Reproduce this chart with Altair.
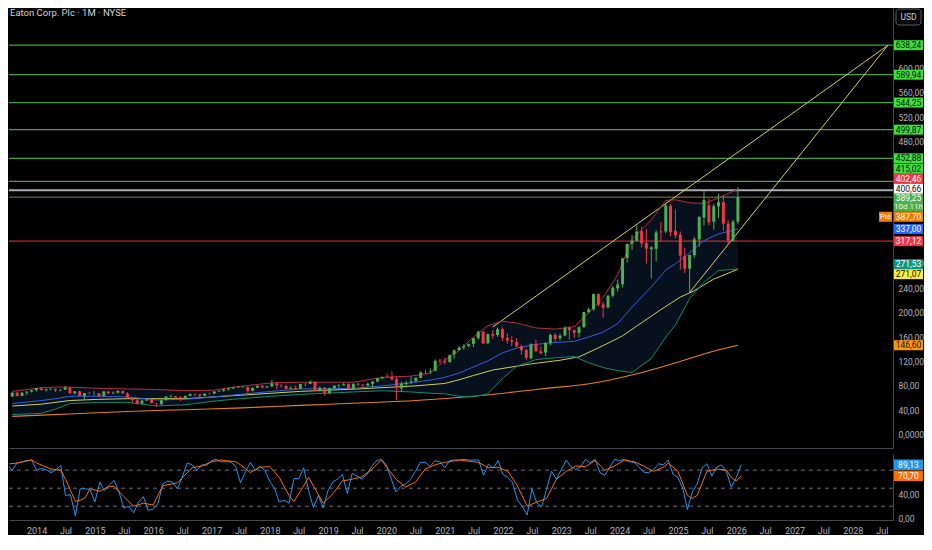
import altair as alt
import pandas as pd

# ---------------- data ----------------
months = pd.date_range("2013-07-01", periods=152, freq="MS")

opens = [
    62.5, 68.9, 63.5, 68.9, 70.6, 72.9,
    76.0, 72.9, 74.5, 74.8, 72.6, 73.6, 77.0, 68.0, 71.1, 63.4, 68.5, 68.0,
    68.0, 63.3, 70.6, 67.6, 68.8, 71.6, 67.5, 60.6, 56.4, 51.3, 56.0, 58.0,
    51.3, 50.3, 56.6, 62.4, 63.2, 61.3, 59.7, 63.5, 66.4, 65.7, 63.9, 67.1,
    67.3, 70.8, 71.8, 74.1, 75.8, 77.5, 78.0, 78.3, 71.9, 76.9, 80.0, 77.3,
    79.2, 84.1, 80.6, 79.9, 75.2, 76.6, 75.0, 83.2, 83.4, 86.7, 71.9, 77.0,
    68.2, 76.3, 80.0, 80.8, 82.9, 74.8, 83.6, 82.0, 80.5, 83.3, 87.1, 92.6,
    95.0, 94.6, 91.2, 75.8, 82.9, 86.0, 87.7, 93.0, 102.3, 102.5, 104.8, 121.4,
    120.4, 119.1, 131.6, 138.8, 143.3, 145.5, 148.8, 158.2, 168.8, 150.0, 165.3, 163.5,
    173.0, 158.7, 154.5, 151.8, 145.0, 138.9, 125.3, 148.4, 136.5, 134.6, 150.0, 163.5,
    158.0, 162.5, 175.8, 171.0, 166.9, 176.3, 201.0, 205.5, 230.4, 213.3, 208.5, 227.7,
    239.8, 246.5, 289.5, 313.0, 317.8, 333.5, 314.0, 304.0, 304.5, 333.0, 333.0, 375.0,
    334.0, 327.5, 293.0, 272.0, 294.0, 320.0, 356.0, 376.0, 349.0, 374.0, 381.0, 346.0,
    318.0, 349.0,
]
highs = [
    69.5, 70.4, 69.6, 71.1, 73.5, 76.5,
    77.7, 75.2, 76.4, 75.6, 74.8, 79.9, 78.0, 71.6, 72.0, 68.5, 70.4, 71.5,
    68.6, 71.4, 71.6, 70.7, 72.9, 72.4, 69.7, 61.9, 58.4, 56.4, 59.5, 58.2,
    51.8, 57.0, 63.0, 65.6, 63.5, 63.0, 64.2, 67.6, 67.3, 66.5, 68.2, 69.0,
    71.5, 73.2, 75.0, 77.0, 78.0, 79.9, 79.9, 78.6, 77.2, 81.2, 81.2, 80.2,
    89.8, 85.9, 83.0, 81.2, 79.4, 80.5, 83.5, 84.4, 89.2, 87.6, 79.0, 78.5,
    77.3, 81.3, 82.6, 84.9, 84.5, 84.1, 85.1, 82.8, 85.7, 88.0, 93.0, 95.2,
    100.2, 103.9, 95.0, 86.9, 87.9, 94.9, 94.0, 103.9, 106.6, 108.6, 123.3, 124.4,
    126.7, 131.6, 139.6, 145.0, 148.4, 149.7, 158.6, 170.3, 170.0, 165.6, 171.0, 175.7,
    175.7, 166.1, 161.5, 158.3, 147.5, 140.6, 149.6, 155.5, 144.9, 151.8, 165.5, 167.0,
    165.5, 178.0, 177.5, 172.5, 177.6, 201.5, 208.0, 231.1, 232.0, 218.0, 228.5, 243.7,
    254.3, 290.0, 313.4, 327.5, 345.2, 341.2, 337.0, 309.0, 335.0, 348.5, 379.1, 378.0,
    369.0, 333.0, 306.0, 295.0, 324.0, 357.7, 399.6, 387.0, 378.0, 395.0, 393.0, 352.0,
    352.0, 406.0,
]
lows = [
    62.0, 63.0, 63.2, 65.0, 69.2, 70.6,
    72.1, 70.7, 72.8, 70.2, 71.0, 73.1, 67.8, 66.0, 63.0, 57.9, 66.4, 64.1,
    61.7, 62.6, 66.6, 66.7, 68.4, 67.3, 59.6, 52.4, 49.5, 50.4, 55.3, 51.1,
    46.2, 47.8, 56.0, 61.0, 58.7, 55.0, 59.3, 63.3, 63.2, 61.2, 63.0, 66.0,
    66.7, 70.0, 70.5, 72.7, 75.0, 76.5, 76.6, 68.8, 70.9, 76.5, 76.3, 76.8,
    78.5, 73.9, 76.8, 74.3, 74.5, 74.4, 74.6, 79.5, 82.8, 71.0, 70.5, 64.6,
    67.0, 75.5, 76.3, 80.6, 74.0, 74.3, 80.0, 76.1, 79.0, 77.5, 86.2, 90.5,
    93.2, 89.0, 56.4, 70.1, 77.0, 83.0, 84.9, 92.5, 99.0, 99.7, 104.4, 116.6,
    115.4, 117.9, 124.7, 137.6, 139.0, 143.4, 143.5, 155.6, 149.0, 148.4, 157.0, 160.5,
    153.7, 149.1, 144.7, 143.0, 131.0, 122.5, 123.6, 136.4, 131.8, 128.8, 146.5, 151.5,
    154.5, 161.0, 155.4, 158.5, 159.6, 175.0, 198.5, 203.0, 210.6, 191.8, 207.0, 225.0,
    234.3, 241.5, 282.0, 303.0, 316.0, 307.0, 280.0, 255.7, 284.0, 316.0, 330.0, 325.0,
    322.0, 270.0, 265.0, 231.9, 290.0, 308.0, 343.0, 343.0, 336.0, 355.0, 334.0, 311.0,
    317.0, 345.0,
]
closes = [
    68.9, 63.3, 68.8, 70.6, 72.9, 76.1,
    73.1, 74.5, 75.1, 72.6, 73.5, 77.2, 67.9, 71.2, 63.4, 68.4, 68.0, 68.0,
    63.1, 71.0, 67.9, 68.7, 71.6, 67.5, 60.6, 57.0, 51.3, 55.9, 58.0, 52.0,
    50.5, 56.6, 62.6, 63.3, 61.0, 59.7, 63.4, 66.4, 65.7, 63.8, 66.9, 67.1,
    70.8, 71.6, 74.2, 75.6, 77.5, 77.8, 78.3, 71.9, 76.8, 80.0, 77.3, 79.0,
    84.0, 80.8, 79.9, 75.0, 76.6, 74.7, 83.2, 83.4, 86.7, 71.7, 76.8, 68.7,
    76.3, 80.3, 80.6, 82.8, 74.5, 83.3, 82.2, 80.7, 83.2, 87.1, 92.5, 94.7,
    94.5, 90.7, 77.7, 83.5, 85.0, 87.5, 93.2, 102.1, 102.0, 103.8, 121.1, 120.1,
    118.6, 130.4, 138.3, 142.9, 145.2, 148.2, 158.0, 168.6, 149.3, 164.8, 162.1, 172.8,
    158.4, 154.3, 151.8, 145.0, 138.6, 126.0, 148.4, 136.5, 133.4, 150.1, 163.4, 156.9,
    162.2, 174.9, 171.3, 167.1, 175.9, 201.1, 205.3, 230.4, 213.3, 207.9, 227.7, 240.8,
    246.1, 289.0, 312.7, 318.3, 333.0, 313.5, 304.8, 307.0, 331.4, 331.5, 375.3, 331.9,
    326.6, 293.5, 271.8, 294.4, 320.3, 357.0, 384.7, 348.0, 374.3, 381.0, 346.0, 318.0,
    349.0, 389.25,
]

bb_dates = ["2013-07", "2014-01", "2014-04", "2014-07", "2015-01", "2015-07", "2016-01", "2016-07",
            "2017-01", "2017-05", "2018-01", "2018-07", "2019-06", "2019-12", "2020-06", "2020-10",
            "2021-01", "2021-04", "2021-07", "2021-10", "2022-01", "2022-04", "2022-08", "2022-12",
            "2023-04", "2023-07", "2023-10", "2024-01", "2024-04", "2024-08", "2024-11", "2025-01",
            "2025-04", "2025-07", "2025-10", "2026-02"]
bb_upper = [71, 77, 78, 78, 76, 75, 74, 72, 73, 78, 85, 86, 86, 94, 96, 101, 122, 138, 160, 179,
            186, 183, 175, 173, 177, 200, 225, 262, 320, 352, 384, 385, 380, 379, 388, 402.46]
bb_mid = [51, 56, 59, 63, 63, 62, 57, 58, 62, 65, 71, 75, 76, 80, 85, 89.5, 94, 101, 111, 121,
          134, 142, 148, 151, 153, 160, 168, 182, 209, 242, 270, 280, 298, 318, 329, 337.00]
bb_lower = [33, 35, 42, 51, 53, 53, 47, 49, 55, 58, 63, 66, 70, 72, 70, 68, 67, 63, 62, 67,
            92, 112, 123, 126, 128, 118, 110, 105, 102, 125, 160, 180, 223, 250, 269, 271.53]

ma50_dates = ["2013-07", "2014-01", "2014-07", "2015-01", "2015-07", "2016-07", "2017-01", "2017-05",
              "2018-07", "2019-07", "2020-07", "2021-01", "2021-04", "2021-07", "2021-11", "2022-07",
              "2023-01", "2023-05", "2023-10", "2024-02", "2024-05", "2024-10", "2025-02", "2025-05",
              "2025-09", "2026-02"]
ma50_vals = [47, 50, 56, 58, 59, 59, 62, 64, 71, 75, 80, 84, 90, 97, 106, 116, 122, 127.5, 146, 162,
             178, 205, 225.5, 236, 255, 271.07]

ma100_dates = ["2013-07", "2014-07", "2015-07", "2016-07", "2017-07", "2018-07", "2019-07", "2020-07",
               "2021-07", "2022-09", "2023-09", "2024-06", "2025-02", "2025-08", "2026-02"]
ma100_vals = [30, 34, 38, 41, 44, 48, 52, 56, 63, 75, 86, 102, 120, 134.7, 146.60]

trend_start_dates = ["2021-11-01", "2025-04-01"]
trend_start_vals = [176.6, 233.0]
trend_end_date = "2028-09-09"
trend_end_val = 638.24

green_levels = [638.24, 589.94, 544.25, 499.87, 452.88, 415.02]
white_level = 400.66
last_price = 389.25
premarket = 387.70
red_level = 317.12
countdown = "10d 11h"

k_vals = [
    89.5, 80, 92, 94, 96, 97,
    80, 83, 81, 76, 80, 88, 38, 39, 4, 49, 49, 48,
    27, 60, 46, 55, 63, 44, 17, 20, 9, 27, 36, 13,
    15, 25, 57, 62, 60, 49, 68, 92, 89, 80, 89, 88,
    96, 98, 94, 94, 94, 86, 59, 77, 93, 80, 86, 80,
    61, 49, 27, 30, 25, 66, 66, 84, 46, 18, 38, 17,
    46, 61, 65, 73, 41, 75, 70, 65, 73, 86, 96, 98,
    89, 65, 44, 53, 57, 65, 78, 93, 93, 86, 96, 94,
    84, 96, 97, 97, 98, 97, 97, 97, 71.5, 90, 83.7, 96,
    73, 67.7, 59.7, 30.4, 19.7, 5.3, 49, 25, 19.7, 49, 78.4, 65,
    81, 97, 86.4, 81, 85.3, 98, 92.8, 98, 75.7, 71.5, 85.3, 98,
    96, 98, 94.4, 92.8, 85.3, 76.8, 75.7, 81, 90.7, 89, 97, 73,
    67.7, 49, 14.4, 43.7, 57, 83.7, 90.7, 70.4, 85.3, 89, 76.8, 51.7,
    67.7, 89.13,
]
d_idx = [0, 2, 5, 6, 9, 11, 12, 14, 15, 16, 17, 19, 21, 22, 24, 26, 28, 30, 32, 35,
         38, 40, 42, 44, 47, 48, 50, 52, 54, 56, 58, 59, 61, 62, 65, 67, 69, 71, 73, 75,
         77, 78, 80, 82, 84, 86, 88, 90, 93, 97, 99, 101, 103, 105, 107, 109, 111, 113, 115, 117,
         119, 121, 123, 125, 127, 129, 131, 133, 135, 136, 138, 140, 141, 142, 144, 146, 148, 149, 150, 151]
d_vals = [90, 92, 97, 92, 82, 80, 65, 28, 30, 34, 49, 45, 53, 53, 36, 20, 25, 22, 54, 59,
          84, 87, 94, 97, 94, 89, 76, 85, 86, 68, 38, 28, 54, 68, 25, 41, 62, 65, 69, 81,
          97, 86, 65, 52, 60, 82, 89, 93, 97, 93, 84, 85, 78, 54, 20, 27, 33, 65, 78, 87,
          86, 96, 80, 87, 97, 94, 87, 78, 85, 92, 78, 38, 33, 38, 78, 82, 80, 68, 62, 70.70]

price_ticks = [0, 40, 80, 120, 160, 200, 240, 280, 480, 520, 560, 600]
rsi_ticks = [0, 40]
rsi_bands = [20, 50, 80]
tick_years = list(range(2014, 2029))
tick_months = [1, 7]
title_text = "Eaton Corp. Plc · 1M · NYSE"

# ---------------- layout / style ----------------
W, H1, H2 = 884, 440, 66
Y0, Y1 = -21.8, 699.2
R0, R1 = -3.0, 107.0
FONT = "Roboto"
AXC = "#b2b5be"
LINE = "#434651"
UP, DOWN = "#4caf50", "#f23645"
LEVEL_GREEN = "#43a047"
LABEL_GREEN = "#3be03b"
BOX_H = 10


def fmt(v):
    return f"{v:.2f}".replace(".", ",")


x_scale = alt.Scale(domain=[alt.DateTime(year=2013, month=7, date=12),
                            alt.DateTime(year=2028, month=9, date=9)])
y_scale = alt.Scale(domain=[Y0, Y1], nice=False, zero=False)
r_scale = alt.Scale(domain=[R0, R1], nice=False, zero=False)

price_x_axis = alt.Axis(labels=False, ticks=False, domain=True, domainColor=LINE, grid=False, title=None)
price_y_axis = alt.Axis(orient="right", values=price_ticks,
                        labelExpr="datum.value == 0 ? '0,0000' : replace(format(datum.value, '.2f'), '.', ',')",
                        ticks=False, domain=True, domainColor=LINE, labelColor=AXC, labelFont=FONT,
                        labelFontSize=8.5, labelAlign="left", labelPadding=5, grid=False, title=None)
rsi_x_axis = alt.Axis(values=[alt.DateTime(year=y, month=m, date=1) for y in tick_years for m in tick_months],
                      labelExpr="month(datum.value) == 0 ? timeFormat(datum.value, '%Y') : 'Jul'",
                      ticks=False, domain=True, domainColor=LINE, labelColor=AXC, labelFont=FONT,
                      labelFontSize=9, labelPadding=6, labelOverlap=False, labelFlush=False,
                      grid=False, title=None)
rsi_y_axis = alt.Axis(orient="right", values=rsi_ticks,
                      labelExpr="replace(format(datum.value, '.2f'), '.', ',')",
                      ticks=False, domain=True, domainColor=LINE, labelColor=AXC, labelFont=FONT,
                      labelFontSize=8.5, labelAlign="left", labelPadding=5, grid=False, title=None)


def PX():
    return alt.X("date:T", scale=x_scale, axis=price_x_axis, title=None)


def PY(f):
    return alt.Y(f"{f}:Q", scale=y_scale, axis=price_y_axis, title=None)


def RX():
    return alt.X("date:T", scale=x_scale, axis=rsi_x_axis, title=None)


def RY(f):
    return alt.Y(f"{f}:Q", scale=r_scale, axis=rsi_y_axis, title=None)


# ---------------- price pane ----------------
cdf = pd.DataFrame({"date": months, "open": opens, "high": highs, "low": lows, "close": closes})
cdf["col"] = [UP if c >= o else DOWN for o, c in zip(opens, closes)]

bdf = pd.DataFrame({"date": pd.to_datetime(bb_dates), "upper": bb_upper, "mid": bb_mid, "lower": bb_lower})
m50 = pd.DataFrame({"date": pd.to_datetime(ma50_dates), "v": ma50_vals})
m100 = pd.DataFrame({"date": pd.to_datetime(ma100_dates), "v": ma100_vals})
tdf = pd.DataFrame({
    "date": pd.to_datetime(trend_start_dates + [trend_end_date, trend_end_date]),
    "v": trend_start_vals + [trend_end_val, trend_end_val],
    "line": ["a", "b", "a", "b"],
})

bb_fill = alt.Chart(bdf).mark_area(color="#07101d", clip=True).encode(x=PX(), y=PY("upper"), y2="lower:Q")

gl = alt.Chart(pd.DataFrame({"v": green_levels})).mark_rule(color=LEVEL_GREEN, strokeWidth=1.3).encode(y=PY("v"))
wl = alt.Chart(pd.DataFrame({"v": [white_level]})).mark_rule(color="#a9abb0", strokeWidth=2).encode(y=PY("v"))
pl = alt.Chart(pd.DataFrame({"v": [last_price]})).mark_rule(color="#86814a", strokeWidth=1).encode(y=PY("v"))
rl = alt.Chart(pd.DataFrame({"v": [red_level]})).mark_rule(color="#c62828", strokeWidth=1.3).encode(y=PY("v"))

trend = alt.Chart(tdf).mark_line(color="#d2d25e", strokeWidth=1, clip=True).encode(
    x=PX(), y=PY("v"), detail="line:N")

bb_up = alt.Chart(bdf).mark_line(color="#b3303c", strokeWidth=1, clip=True).encode(x=PX(), y=PY("upper"))
bb_md = alt.Chart(bdf).mark_line(color="#2f5fe0", strokeWidth=1, clip=True).encode(x=PX(), y=PY("mid"))
bb_lo = alt.Chart(bdf).mark_line(color="#138a6a", strokeWidth=1, clip=True).encode(x=PX(), y=PY("lower"))
ma50_l = alt.Chart(m50).mark_line(color="#cfcf55", strokeWidth=1, clip=True).encode(x=PX(), y=PY("v"))
ma100_l = alt.Chart(m100).mark_line(color="#e8821e", strokeWidth=1.1, clip=True,
                                    interpolate="monotone").encode(x=PX(), y=PY("v"))

wicks = alt.Chart(cdf).mark_rule(strokeWidth=1, clip=True).encode(
    x=PX(), y=PY("low"), y2="high:Q", color=alt.Color("col:N", scale=None))
bodies = alt.Chart(cdf).mark_bar(size=3, clip=True).encode(
    x=PX(), y=PY("open"), y2="close:Q", color=alt.Color("col:N", scale=None))


# ----- right-hand value labels (spread apart so they do not overlap) -----
def to_px(v, lo, hi, h):
    return h * (hi - v) / (hi - lo)


def to_val(p, lo, hi, h):
    return hi - p * (hi - lo) / h


def spread(items, lo, hi, h):
    items = sorted(items, key=lambda d: -d["value"])
    pos = [to_px(d["value"], lo, hi, h) for d in items]
    for _ in range(400):
        for k in range(len(items) - 1):
            need = (items[k]["h"] + items[k + 1]["h"]) / 2
            gap = pos[k + 1] - pos[k]
            if gap < need:
                d = (need - gap) / 2
                pos[k] -= d
                pos[k + 1] += d
    rows = []
    for d, p in zip(items, pos):
        r = dict(d)
        r["pos"] = to_val(p, lo, hi, h)
        r["lo"] = to_val(p + d["h"] / 2, lo, hi, h)
        r["hi"] = to_val(p - d["h"] / 2, lo, hi, h)
        r["tpos"] = to_val(p - (4.3 if d["h"] > 12 else 0), lo, hi, h)
        r["tpos2"] = to_val(p + 4.3, lo, hi, h)
        rows.append(r)
    return pd.DataFrame(rows)


plabels = [dict(value=v, txt=fmt(v), bg=LABEL_GREEN, fg="#111111", h=BOX_H, kind="n") for v in green_levels]
plabels += [
    dict(value=bb_upper[-1], txt=fmt(bb_upper[-1]), bg="#f23645", fg="#ffffff", h=BOX_H, kind="n"),
    dict(value=white_level, txt=fmt(white_level), bg="#ffffff", fg="#111111", h=BOX_H, kind="n"),
    dict(value=last_price, txt=fmt(last_price), bg="#4caf50", fg="#ffffff", h=18, kind="last"),
    dict(value=premarket, txt=fmt(premarket), bg="#f57c00", fg="#ffffff", h=BOX_H, kind="pre"),
    dict(value=bb_mid[-1], txt=fmt(bb_mid[-1]), bg="#2962ff", fg="#ffffff", h=BOX_H, kind="n"),
    dict(value=red_level, txt=fmt(red_level), bg="#f23645", fg="#ffffff", h=BOX_H, kind="n"),
    dict(value=bb_lower[-1], txt=fmt(bb_lower[-1]), bg="#089981", fg="#ffffff", h=BOX_H, kind="n"),
    dict(value=ma50_vals[-1], txt=fmt(ma50_vals[-1]), bg="#ffeb3b", fg="#111111", h=BOX_H, kind="n"),
    dict(value=ma100_vals[-1], txt=fmt(ma100_vals[-1]), bg="#ff9800", fg="#111111", h=BOX_H, kind="n"),
]
pl_df = spread(plabels, Y0, Y1, H1)
last_df = pl_df[pl_df["kind"] == "last"].copy()
last_df["txt2"] = countdown
pre_df = pl_df[pl_df["kind"] == "pre"].copy()
pre_df["tag"] = "Pré"

p_boxes = alt.Chart(pl_df).mark_rect().encode(
    x=alt.value(W + 1), x2=alt.value(W + 30), y=PY("lo"), y2="hi:Q", color=alt.Color("bg:N", scale=None))
p_texts = alt.Chart(pl_df).mark_text(font=FONT, fontSize=8.5, align="center", baseline="middle").encode(
    x=alt.value(W + 15.5), y=PY("tpos"), text="txt:N", color=alt.Color("fg:N", scale=None))
p_count = alt.Chart(last_df).mark_text(font=FONT, fontSize=8, align="center", baseline="middle",
                                       color="#e8f5e9").encode(
    x=alt.value(W + 15.5), y=PY("tpos2"), text="txt2:N")
pre_box = alt.Chart(pre_df).mark_rect(color="#f57c00").encode(
    x=alt.value(W - 14), x2=alt.value(W - 1), y=PY("lo"), y2="hi:Q")
pre_txt = alt.Chart(pre_df).mark_text(font=FONT, fontSize=7.5, align="center", baseline="middle",
                                      color="#ffffff").encode(
    x=alt.value(W - 7.5), y=PY("pos"), text="tag:N")

usd_df = pd.DataFrame({"t": ["USD"]})
usd_box = alt.Chart(usd_df).mark_rect(fill="#000000", stroke="#5d606b", strokeWidth=1, cornerRadius=3).encode(
    x=alt.value(W + 3), x2=alt.value(W + 28), y=alt.value(1), y2=alt.value(17))
usd_txt = alt.Chart(usd_df).mark_text(font=FONT, fontSize=8.5, color="#d1d4dc", align="center",
                                      baseline="middle").encode(
    x=alt.value(W + 15.5), y=alt.value(9), text="t:N")

title = alt.Chart(pd.DataFrame({"t": [title_text]})).mark_text(
    font=FONT, fontSize=9.5, color="#d1d4dc", align="left", baseline="top").encode(
    x=alt.value(1), y=alt.value(0), text="t:N")

price = alt.layer(
    bb_fill, gl, wl, pl, rl, trend, ma100_l, ma50_l, bb_lo, bb_md, bb_up, wicks, bodies,
    p_boxes, p_texts, p_count, pre_box, pre_txt, usd_box, usd_txt, title,
).properties(width=W, height=H1)

# ---------------- stochastic RSI pane ----------------
kdf = pd.DataFrame({"date": months, "v": k_vals})
ddf = pd.DataFrame({"date": [months[i] for i in d_idx], "v": d_vals})

bands = alt.Chart(pd.DataFrame({"v": rsi_bands})).mark_rule(
    color="#6a6d78", strokeWidth=1, strokeDash=[4, 4]).encode(y=RY("v"))
k_line = alt.Chart(kdf).mark_line(color="#2196f3", strokeWidth=1, clip=True).encode(x=RX(), y=RY("v"))
d_line = alt.Chart(ddf).mark_line(color="#ff6d00", strokeWidth=1, clip=True).encode(x=RX(), y=RY("v"))

rlabels = [
    dict(value=k_vals[-1], txt=fmt(k_vals[-1]), bg="#2196f3", fg="#ffffff", h=10.5),
    dict(value=d_vals[-1], txt=fmt(d_vals[-1]), bg="#ff6d00", fg="#ffffff", h=10.5),
]
rl_df = spread(rlabels, R0, R1, H2)
r_boxes = alt.Chart(rl_df).mark_rect().encode(
    x=alt.value(W + 1), x2=alt.value(W + 30), y=RY("lo"), y2="hi:Q", color=alt.Color("bg:N", scale=None))
r_texts = alt.Chart(rl_df).mark_text(font=FONT, fontSize=8.5, align="center", baseline="middle").encode(
    x=alt.value(W + 15.5), y=RY("pos"), text="txt:N", color=alt.Color("fg:N", scale=None))

rsi = alt.layer(bands, k_line, d_line, r_boxes, r_texts).properties(width=W, height=H2)

chart = alt.vconcat(price, rsi, spacing=6).properties(
    padding=0, background="#000000"
).configure_view(stroke=None).configure_axis(grid=False)

chart.save("out.html", embed_options={"renderer": "svg", "actions": False})
